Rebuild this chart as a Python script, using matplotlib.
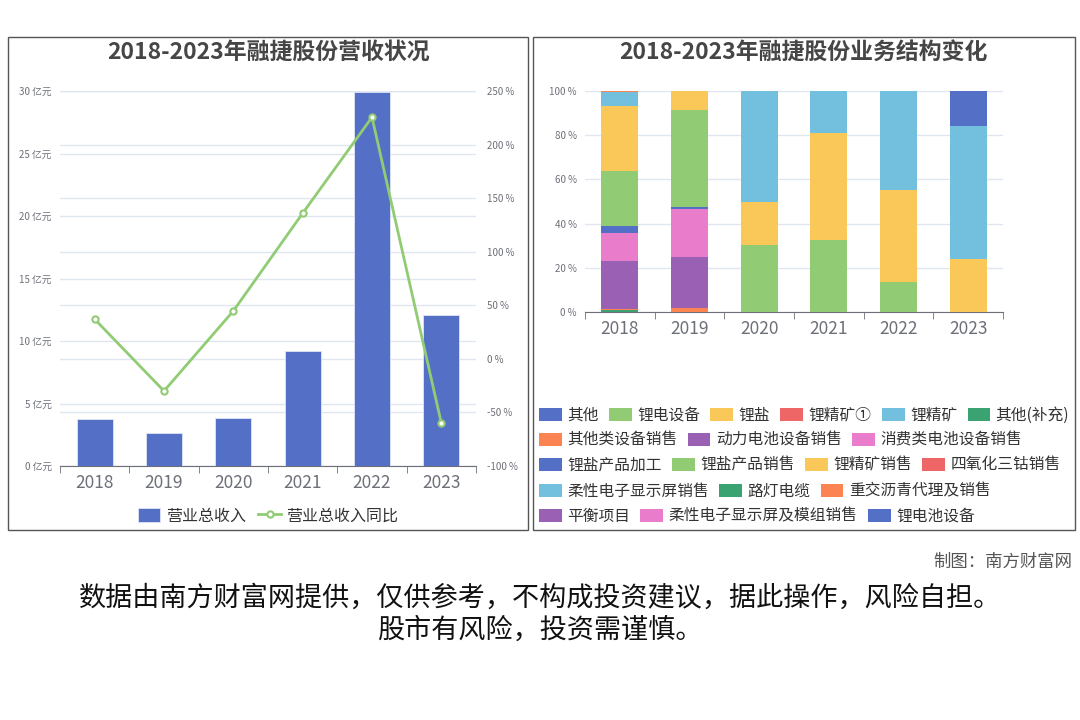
import matplotlib
matplotlib.use('Agg')
import matplotlib.pyplot as plt
from matplotlib.patches import Rectangle
import numpy as np

plt.rcParams['font.family'] = ['Noto Sans CJK SC', 'DejaVu Sans']

# ---- data ----
years = ['2018', '2019', '2020', '2021', '2022', '2023']
revenue = [3.76, 2.64, 3.84, 9.2, 29.9, 12.08]          # 亿元
revenue_yoy = [37.0, -30.0, 44.7, 135.9, 225.5, -60.0]  # %

segments = ['其他', '锂电设备', '锂盐', '锂精矿①', '锂精矿', '其他(补充)',
            '其他类设备销售', '动力电池设备销售', '消费类电池设备销售',
            '锂盐产品加工', '锂盐产品销售', '锂精矿销售', '四氧化三钴销售',
            '柔性电子显示屏销售', '路灯电缆', '重交沥青代理及销售',
            '平衡项目', '柔性电子显示屏及模组销售', '锂电池设备']

# share of each segment (%), in the order of `segments`
share_2018 = [0, 0, 0, 0, 0, 0.7, 0.7, 21.5, 12.8, 3.0, 24.9, 29.8, 0, 6.1, 0, 0.5, 0, 0, 0]
share_2019 = [0, 0, 0, 0, 0, 0, 2.0, 22.9, 21.7, 0.9, 44.0, 8.5, 0, 0, 0, 0, 0, 0, 0]
share_2020 = [0, 30.1, 19.6, 0, 50.1, 0.2, 0, 0, 0, 0, 0, 0, 0, 0, 0, 0, 0, 0, 0]
share_2021 = [0, 32.4, 48.5, 0, 18.9, 0.2, 0, 0, 0, 0, 0, 0, 0, 0, 0, 0, 0, 0, 0]
share_2022 = [0, 13.4, 42.0, 0, 44.6, 0, 0, 0, 0, 0, 0, 0, 0, 0, 0, 0, 0, 0, 0]
share_2023 = [0, 0, 24.2, 0, 60.1, 0, 0, 0, 0, 0, 0, 0, 0, 0, 0, 0, 0, 0, 15.7]

legend_rows = [[0, 1, 2, 3, 4, 5], [6, 7, 8], [9, 10, 11, 12], [13, 14, 15], [16, 17, 18]]

palette = ['#5470c6', '#91cc75', '#fac858', '#ee6666', '#73c0de',
           '#3ba272', '#fc8452', '#9a60b4', '#ea7ccc']
grid_c = '#e0e6f1'
tick_c = '#6e7079'
axis_c = '#6e7079'

W, H = 1080, 720
fig = plt.figure(figsize=(10.8, 7.2), dpi=100)


def fx(px):
    return px / W


def fy(py):
    return 1 - py / H


# panel frames
for x0, x1 in [(8, 528), (533, 1075)]:
    fig.add_artist(Rectangle((fx(x0), fy(530)), fx(x1 - x0), (530 - 37) / H,
                             transform=fig.transFigure, fill=False,
                             ec='#555555', lw=1))

fig.text(fx(268), fy(52), '2018-2023年融捷股份营收状况', ha='center', va='center',
         fontsize=16.5, fontweight='bold', color='#464646')
fig.text(fx(803), fy(52), '2018-2023年融捷股份业务结构变化', ha='center', va='center',
         fontsize=16.5, fontweight='bold', color='#464646')

x = np.arange(len(years))

# ---- left chart ----
ax = fig.add_axes([fx(60), fy(466), fx(416), 375 / H])
ax2 = ax.twinx()
bars = ax.bar(x, revenue, width=0.52, color='#5470c6', edgecolor='#dfe5f5',
              lw=0.6, zorder=3, label='营业总收入')
ax.set_ylim(0, 30)
ax.set_yticks(np.arange(0, 31, 5))
ax.set_yticklabels([f'{v} 亿元' for v in range(0, 31, 5)])
ax.grid(axis='y', color=grid_c, lw=1, zorder=0)
ax2.set_ylim(-100, 250)
pct_ticks = np.arange(-100, 251, 50)
ax2.set_yticks(pct_ticks)
ax2.set_yticklabels([f'{v} %' for v in pct_ticks])
# percent gridlines drawn behind the bars
for p in pct_ticks:
    ax.axhline((p + 100) * 30 / 350, color=grid_c, lw=1, zorder=0)
line, = ax2.plot(x, revenue_yoy, color='#91cc75', lw=2, marker='o', ms=4.5,
                 mfc='white', mec='#91cc75', mew=1.5, zorder=4, label='营业总收入同比')

for a in (ax, ax2):
    a.set_xlim(-0.5, len(years) - 0.5)
    for s in a.spines.values():
        s.set_visible(False)
    a.tick_params(axis='y', length=0, labelsize=7, labelcolor=tick_c)
ax.tick_params(axis='y', pad=6)
ax2.tick_params(axis='y', pad=8)
ax.spines['bottom'].set_visible(True)
ax.spines['bottom'].set_color(axis_c)
ax.set_xticks(x)
ax.set_xticklabels(years)
ax.set_xticks(np.arange(-0.5, len(years)), minor=True)
ax.tick_params(axis='x', which='major', length=0, labelsize=12.5, labelcolor=tick_c, pad=6)
ax.tick_params(axis='x', which='minor', length=5, color=axis_c)

fig.legend([bars, line], ['营业总收入', '营业总收入同比'], loc='center',
           bbox_to_anchor=(fx(268), fy(516)), ncol=2, frameon=False,
           fontsize=11.5, handlelength=1.4, handleheight=0.9, handletextpad=0.35,
           columnspacing=0.8, labelcolor='#333333', borderaxespad=0, borderpad=0)

# ---- right chart ----
bx = fig.add_axes([fx(585), fy(312), fx(418), 221 / H])
table = np.array([share_2018, share_2019, share_2020,
                  share_2021, share_2022, share_2023]).T
bottom = np.zeros(len(years))
handles = []
for i, name in enumerate(segments):
    b = bx.bar(x, table[i], bottom=bottom, width=0.53,
               color=palette[i % len(palette)], zorder=3, label=name)
    handles.append(b)
    bottom += table[i]
bx.set_ylim(0, 100)
bx.set_xlim(-0.5, len(years) - 0.5)
bx.set_yticks(np.arange(0, 101, 20))
bx.set_yticklabels([f'{v} %' for v in range(0, 101, 20)])
bx.grid(axis='y', color=grid_c, lw=1, zorder=0)
for s in bx.spines.values():
    s.set_visible(False)
bx.spines['bottom'].set_visible(True)
bx.spines['bottom'].set_color(axis_c)
bx.tick_params(axis='y', length=0, labelsize=7, labelcolor=tick_c, pad=6)
bx.set_xticks(x)
bx.set_xticklabels(years)
bx.set_xticks(np.arange(-0.5, len(years)), minor=True)
bx.tick_params(axis='x', which='major', length=0, labelsize=12.5, labelcolor=tick_c, pad=6)
bx.tick_params(axis='x', which='minor', length=5, color=axis_c)

row_y = [415, 440, 465, 491, 516]
for row, yy in zip(legend_rows, row_y):
    fig.legend([handles[i] for i in row], [segments[i] for i in row],
               loc='center left', bbox_to_anchor=(fx(539), fy(yy)), ncol=len(row),
               frameon=False, fontsize=11.3, handlelength=1.45, handleheight=0.9,
               handletextpad=0.35, columnspacing=0.65, labelcolor='#333333',
               borderaxespad=0, borderpad=0)

# ---- footer ----
fig.text(fx(1072), fy(562), '制图：南方财富网', ha='right', va='center',
         fontsize=12.5, color='#555555')
fig.text(fx(540), fy(598), '数据由南方财富网提供，仅供参考，不构成投资建议，据此操作，风险自担。',
         ha='center', va='center', fontsize=19.5, color='#111111')
fig.text(fx(540), fy(630), '股市有风险，投资需谨慎。',
         ha='center', va='center', fontsize=19.5, color='#111111')

fig.savefig('out.png', dpi=100)
